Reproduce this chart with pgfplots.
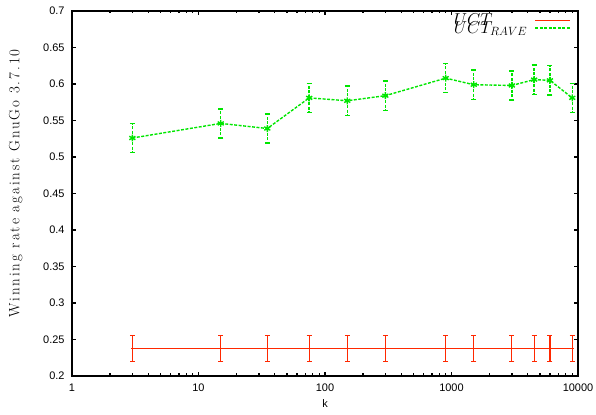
\documentclass[border=0pt]{standalone}
\usepackage{fontspec}
\newfontfamily\hel{Liberation Sans}
\newfontfamily\lmspaced[LetterSpace=13]{Latin Modern Roman}
\usepackage{pgfplots}
\pgfplotsset{compat=1.18}

\definecolor{uctred}{RGB}{255,40,0}
\definecolor{ravegreen}{RGB}{0,230,0}

\begin{document}
\begin{tikzpicture}
\begin{axis}[
    scale only axis,
    width=506bp, height=365bp,
    separate axis lines,
    axis line style={line width=1.8pt, line cap=rect},
    xmode=log,
    xmin=1, xmax=10000,
    ymin=0.2, ymax=0.7,
    ytick={0.2,0.25,0.3,0.35,0.4,0.45,0.5,0.55,0.6,0.65,0.7},
    xtick={1,10,100,1000,10000},
    xticklabels={1,10,100,1000,10000},
    yticklabel style={/pgf/number format/fixed, /pgf/number format/precision=2, xshift=-4pt},
    xticklabel style={yshift=-4pt},
    /pgf/number format/assume math mode=true,
    ticklabel style={font=\hel\fontsize{11}{13}\selectfont},
    tick align=inside,
    major tick length=4.5pt,
    minor tick length=2.5pt,
    every tick/.style={black, line width=1.3pt},
    xlabel={\hel\fontsize{11}{13}\selectfont k},
    ylabel={\lmspaced\fontsize{15}{17}\selectfont Winning rate against GnuGo 3.7.10},
    xlabel style={yshift=-1pt},
    ylabel style={yshift=14pt, xshift=10pt},
    legend style={at={(0.985,0.995)}, anchor=north east, draw=none, fill=none,
        font=\fontsize{18}{18}\selectfont, row sep=-8pt, inner sep=0pt,
        nodes={text width=80bp, align=left, inner sep=1pt}},
    legend cell align=left,
    legend plot pos=right,
    legend image code/.code={\draw[#1] (0cm,0cm) -- (1.2cm,0cm);},
]
\addlegendimage{color=uctred, line width=1.2pt}
\addlegendentry{$UCT$}
\addlegendimage{color=ravegreen, line width=1.4pt, dash pattern=on 3pt off 1.5pt}
\addlegendentry{$UCT_{RAVE}$}

\addplot[forget plot, color=uctred, line width=1.2pt, mark=+, mark size=1.5pt,
    error bars/.cd, y dir=both, y explicit,
    error bar style={line width=1.2pt, color=uctred},
    error mark options={rotate=90, mark size=2.5pt, line width=1.2pt, color=uctred}]
coordinates {
    (3,0.238) +- (0,0.018)
    (15,0.238) +- (0,0.018)
    (35,0.238) +- (0,0.018)
    (75,0.238) +- (0,0.018)
    (150,0.238) +- (0,0.018)
    (300,0.238) +- (0,0.018)
    (900,0.238) +- (0,0.018)
    (1500,0.238) +- (0,0.018)
    (3000,0.238) +- (0,0.018)
    (4500,0.238) +- (0,0.018)
    (6000,0.238) +- (0,0.018)
    (9000,0.238) +- (0,0.018)
};
\addplot[forget plot, color=ravegreen, line width=1.4pt, dash pattern=on 3pt off 1.5pt,
    mark=asterisk, mark size=3.5pt, mark options={solid, line width=1.4pt},
    error bars/.cd, y dir=both, y explicit,
    error bar style={line width=1.4pt, dash pattern=on 3pt off 1.5pt, color=ravegreen},
    error mark options={rotate=90, mark size=2.5pt, line width=1.4pt, color=ravegreen, solid}]
coordinates {
    (3,0.526) +- (0,0.02)
    (15,0.546) +- (0,0.02)
    (35,0.539) +- (0,0.02)
    (75,0.581) +- (0,0.02)
    (150,0.577) +- (0,0.02)
    (300,0.584) +- (0,0.02)
    (900,0.608) +- (0,0.02)
    (1500,0.599) +- (0,0.02)
    (3000,0.598) +- (0,0.02)
    (4500,0.606) +- (0,0.02)
    (6000,0.605) +- (0,0.02)
    (9000,0.581) +- (0,0.02)
};
\coordinate (SW) at (rel axis cs:0,0);
\coordinate (NE) at (rel axis cs:1,1);
\end{axis}
\pgfresetboundingbox
\path[use as bounding box] ([xshift=-72bp,yshift=-39bp]SW) rectangle ([xshift=18bp,yshift=11bp]NE);
\end{tikzpicture}
\end{document}
